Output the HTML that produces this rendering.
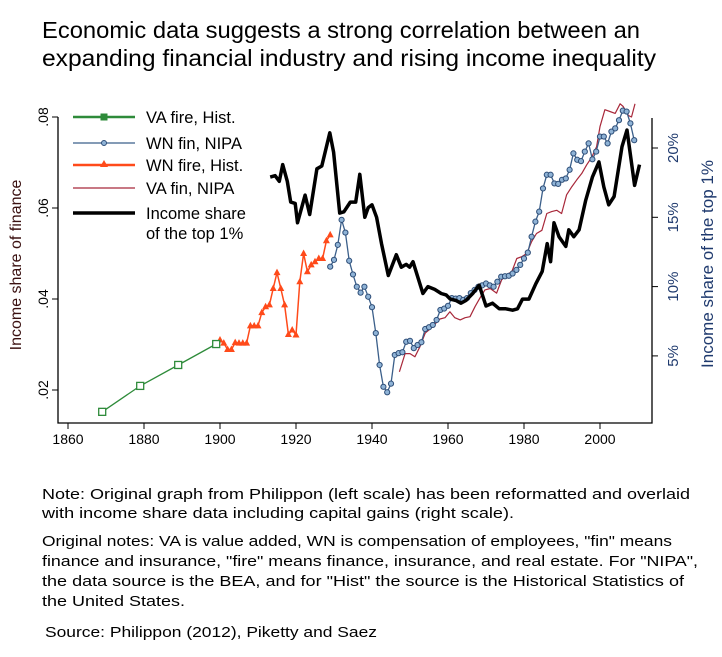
<!DOCTYPE html>
<html><head><meta charset="utf-8"><style>
body{margin:0;background:#fff;width:722px;height:657px;overflow:hidden;font-family:"Liberation Sans",sans-serif}
svg{position:absolute;left:0;top:0}
</style></head><body>
<svg id="c" width="722" height="657">
<text x="42" y="38" font-size="23" textLength="598" lengthAdjust="spacingAndGlyphs">Economic data suggests a strong correlation between an</text>
<text x="42" y="66" font-size="23" textLength="614" lengthAdjust="spacingAndGlyphs">expanding financial industry and rising income inequality</text>
<g id="plot"></g>
<g font-size="15" fill="#000" lengthAdjust="spacingAndGlyphs">
<text x="42" y="499" textLength="648" lengthAdjust="spacingAndGlyphs">Note: Original graph from Philippon (left scale) has been reformatted  and overlaid</text>
<text x="42" y="518" textLength="472" lengthAdjust="spacingAndGlyphs">with income share data including capital gains (right scale).</text>
<text x="42" y="546" textLength="630" lengthAdjust="spacingAndGlyphs">Original notes: VA is value added,  WN is compensation of employees, "fin" means</text>
<text x="42" y="566" textLength="656" lengthAdjust="spacingAndGlyphs">finance and insurance, "fire" means finance,  insurance,  and real estate. For "NIPA",</text>
<text x="42" y="586" textLength="642" lengthAdjust="spacingAndGlyphs">the data source is the BEA, and for "Hist" the source is the Historical Statistics of</text>
<text x="42" y="606" textLength="143" lengthAdjust="spacingAndGlyphs">the United States.</text>
<text x="45" y="637" textLength="332" lengthAdjust="spacingAndGlyphs">Source: Philippon (2012),  Piketty and Saez</text>
</g>
</svg>
<script>
const xTicks=[1860,1880,1900,1920,1940,1960,1980,2000];
const yTicksL=[0.02,0.04,0.06,0.08];
const yTickLabelsL=[".02",".04",".06",".08"];
const yTicksR=[5,10,15,20];
const greenYears=[1869,1879,1889,1899];
const greenVals=[0.0152,0.0209,0.0255,0.0301];
const orangeYears=[1900,1901,1902,1903,1904,1905,1906,1907,1908,1909,1910,1911,1912,1913,1914,1915,1916,1917,1918,1919,1920,1921,1922,1923,1924,1925,1926,1927,1928,1929];
const orangeVals=[0.031,0.0303,0.0289,0.0289,0.0304,0.0303,0.0303,0.0303,0.0341,0.0341,0.0341,0.037,0.0383,0.0387,0.0423,0.0458,0.0423,0.0387,0.0322,0.0332,0.0321,0.0438,0.050,0.046,0.0475,0.0482,0.0489,0.0489,0.0528,0.0541];
const blueStart=1929;
const blueVals=[0.0471,0.0486,0.0519,0.0574,0.0546,0.0484,0.0454,0.0427,0.0414,0.0427,0.0405,0.0382,0.0325,0.0255,0.0207,0.0195,0.0214,0.0277,0.0281,0.0283,0.0306,0.0308,0.0292,0.0299,0.0305,0.0334,0.0338,0.0343,0.0354,0.0376,0.0379,0.0385,0.0402,0.0401,0.0402,0.0398,0.0402,0.0413,0.042,0.0427,0.043,0.0434,0.043,0.0427,0.0438,0.0449,0.045,0.0451,0.0456,0.0464,0.0475,0.0489,0.0502,0.0537,0.057,0.0592,0.0643,0.0673,0.0673,0.0654,0.0653,0.0662,0.0665,0.0684,0.072,0.0706,0.0703,0.0724,0.0742,0.0707,0.0724,0.0757,0.0757,0.0742,0.0768,0.0775,0.0793,0.0814,0.0812,0.0786,0.0749];
const redYears=[1947.2,1948.7,1950,1951.3,1952.6,1954,1955.3,1956.6,1957.9,1959.2,1960.5,1961.8,1963.2,1964.5,1965.8,1967.1,1968.4,1969.7,1971.1,1972.8,1974.1,1975.4,1976.8,1978.1,1979.4,1980.7,1982,1983.3,1984.7,1986,1987.3,1988.6,1989.9,1991.2,1992.6,1993.9,1995.2,1996.5,1997.8,1999.1,2000,2001.3,2002.6,2004,2005.3,2006.1,2007.5,2008.3,2009.2];
const redVals=[0.024,0.028,0.028,0.0273,0.0295,0.0325,0.0334,0.0345,0.0356,0.0359,0.0372,0.0359,0.0354,0.0359,0.0361,0.0383,0.0402,0.042,0.0423,0.0413,0.0442,0.0453,0.046,0.0489,0.0493,0.05,0.0526,0.0544,0.0551,0.0588,0.0592,0.0595,0.0588,0.0629,0.0647,0.0662,0.0676,0.0695,0.0711,0.0735,0.0779,0.0816,0.0812,0.0808,0.0829,0.0823,0.0803,0.08,0.0829];
const topYears=[1913.2,1914.5,1915.6,1916.5,1917.7,1918.6,1919.8,1920.4,1922.4,1923.6,1925.5,1926.8,1928.9,1929.9,1931.5,1932.6,1934.3,1935.7,1936.8,1938.1,1939,1940,1941.2,1942.5,1944.3,1946.4,1947.7,1949,1949.9,1950.8,1953.4,1954.7,1956.5,1958.2,1959.5,1960.6,1962.1,1963.4,1964.7,1966.5,1968.2,1970,1971.7,1973.5,1975.2,1977,1978.3,1979.6,1981.3,1983.1,1984.8,1986.1,1987,1987.9,1989.2,1991,1991.8,1993.1,1994.5,1996.2,1998,1999.7,2001,2002.3,2003.7,2005.8,2007.1,2009.1,2010.4];
const topVals=[17.9,18.0,17.6,18.8,17.6,16.1,16.0,14.6,16.6,15.2,18.5,18.7,21.1,19.7,15.3,15.4,16.1,16.1,18.1,15.0,15.7,15.9,15.0,13.1,10.8,12.3,11.4,11.6,11.4,11.8,9.5,10.0,9.8,9.5,9.4,9.1,9.0,8.8,9.0,9.5,10.1,8.6,8.8,8.4,8.4,8.3,8.4,9.1,9.1,10.2,11.1,13.1,11.8,14.6,13.6,12.9,14.1,13.6,14.1,16.2,17.9,19.0,17.2,15.9,16.5,20.1,21.3,17.3,18.8];

const NS='http://www.w3.org/2000/svg';
const g=document.getElementById('plot');
const X=y=>68+(y-1860)*3.8;
const YL=v=>117+(0.08-v)/0.02*91;
const YR=p=>148+(20-p)/5*69.3;
function el(tag,attrs,parent){const e=document.createElementNS(NS,tag);for(const k in attrs)e.setAttribute(k,attrs[k]);(parent||g).appendChild(e);return e;}
let a=el('path',{d:'M58,117 V423 H652 V118',fill:'none',stroke:'#000','stroke-width':1.3});


xTicks.forEach(t=>{
  let l=el('line',{x1:X(t),x2:X(t),y1:423,y2:429,stroke:'#000'});
  
  
  let tx=el('text',{x:X(t),y:444,'font-size':14,'text-anchor':'middle'});tx.textContent=t;
  
  
});
yTicksL.forEach((t,i)=>{
  let l=el('line',{x1:52,x2:58,y1:YL(t),y2:YL(t),stroke:'#000'});
  
  
  let tx=el('text',{x:0,y:0,'font-size':14,'text-anchor':'middle',transform:`translate(48,${YL(t)}) rotate(-90)`});tx.textContent=yTickLabelsL[i];
  
  
});
yTicksR.forEach(t=>{
  let l=el('line',{x1:652,x2:658,y1:YR(t),y2:YR(t),stroke:'#000'});
  
  
  let tx=el('text',{x:0,y:0,'font-size':15,'text-anchor':'middle',fill:'#1f3a6e',transform:`translate(678,${YR(t)}) rotate(-90)`});tx.textContent=t+'%';
  
  
});
let yt=el('text',{x:0,y:0,'font-size':16,'text-anchor':'middle',fill:'#3a1010',transform:'translate(21,265) rotate(-90)'});yt.textContent='Income share of finance';


let yt2=el('text',{x:0,y:0,'font-size':17,'text-anchor':'middle',fill:'#1f3a6e',transform:'translate(713,264) rotate(-90)'});yt2.textContent='Income share of the top 1%';


function line(xs,ys,color,w,name){
  const d=xs.map((x,i)=>(i?'L':'M')+x.toFixed(1)+','+ys[i].toFixed(1)).join('');
  const p=el('path',{d,fill:'none',stroke:color,'stroke-width':w,'stroke-linejoin':'round'});
  
  
}
line(redYears.map(X),redVals.map(YL),'#a8283a',1.2,'va-fin-nipa-line');
const blueYears=blueVals.map((v,i)=>blueStart+i);
line(blueYears.map(X),blueVals.map(YL),'#3b5f8a',1.3,'wn-fin-nipa-line');
blueYears.forEach((y,i)=>{const c=el('circle',{cx:X(y),cy:YL(blueVals[i]),r:2.6,fill:'#8fb3d6',stroke:'#2e4e78','stroke-width':1});

});
line(orangeYears.map(X),orangeVals.map(YL),'#ff4a1a',1.5,'wn-fire-hist-line');
orangeYears.forEach((y,i)=>{const cx=X(y),cy=YL(orangeVals[i]);const t=el('polygon',{points:`${cx},${cy-4} ${cx-3.5},${cy+2.5} ${cx+3.5},${cy+2.5}`,fill:'#ff4a1a'});

});
line(greenYears.map(X),greenVals.map(YL),'#2e8b3a',1.3,'va-fire-hist-line');
greenYears.forEach((y,i)=>{const r=el('rect',{x:X(y)-3.5,y:YL(greenVals[i])-3.5,width:7,height:7,fill:'#fff',stroke:'#2e8b3a','stroke-width':1.3});

});
line(topYears.map(X),topVals.map(YR),'#000',3.5,'top1-income-share-line');
const lg=el('g',{});


const items=[['VA fire, Hist.','#2e8b3a',2.5,'sq',117],['WN fin, NIPA','#3b5f8a',1.3,'ci',143],['WN fire, Hist.','#ff4a1a',2.5,'tr',165],['VA fin, NIPA','#a8283a',1.2,'',188],['Income share','#000',3.5,'',213]];
items.forEach(it=>{
  const [lab,col,w,m,y]=it;
  const ln=el('line',{x1:73,x2:135,y1:y,y2:y,stroke:col,'stroke-width':w},lg);
  
  
  if(m==='sq')el('rect',{x:101,y:y-3,width:6,height:6,fill:'#2e8b3a',stroke:'#2e8b3a'},lg);
  if(m==='ci')el('circle',{cx:104,cy:y,r:2.5,fill:'#8fb3d6',stroke:'#2e4e78'},lg);
  if(m==='tr')el('polygon',{points:`104,${y-5} 100,${y+2} 108,${y+2}`,fill:col},lg);
  const t=el('text',{x:146,y:y+6,'font-size':16.5},lg);t.textContent=lab;
  
  
});
const t2=el('text',{x:146,y:239,'font-size':16.5},lg);t2.textContent='of the top 1%';


</script>
</body></html>
